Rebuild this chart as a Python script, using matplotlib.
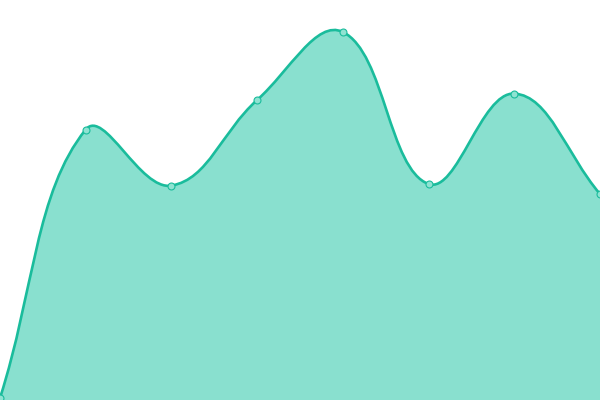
import numpy as np
import matplotlib
matplotlib.use("Agg")
import matplotlib.pyplot as plt
from matplotlib.path import Path
from matplotlib.patches import PathPatch

# data
labels = ["1", "2", "3", "4", "5", "6", "7", "8"]
values = [0.5, 67.6, 53.6, 75.0, 92.0, 54.0, 76.6, 51.5]

LINE = "#1abc9c"
FILL = "#89e0cf"
TENSION = 0.4

W, H = 600, 400
y_max = 100.0
n = len(values)


def spline_path(xs, ys, t=TENSION):
    # chart.js-like cardinal bezier, computed in pixel space
    sx, sy = W / (n - 1), H / y_max
    px = np.asarray(xs, float) * sx
    py = np.asarray(ys, float) * sy
    verts = [(px[0], py[0])]
    codes = [Path.MOVETO]
    cps = []
    for i in range(n):
        p = max(i - 1, 0)
        q = min(i + 1, n - 1)
        d01 = np.hypot(px[i] - px[p], py[i] - py[p])
        d12 = np.hypot(px[q] - px[i], py[q] - py[i])
        s = d01 + d12 if d01 + d12 else 1
        fa, fb = t * d01 / s, t * d12 / s
        cps.append(((px[i] - fa * (px[q] - px[p]), py[i] - fa * (py[q] - py[p])),
                    (px[i] + fb * (px[q] - px[p]), py[i] + fb * (py[q] - py[p]))))
    for i in range(n - 1):
        verts += [cps[i][1], cps[i + 1][0], (px[i + 1], py[i + 1])]
        codes += [Path.CURVE4] * 3
    verts = [(vx / sx, vy / sy) for vx, vy in verts]
    return verts, codes


fig = plt.figure(figsize=(6, 4), dpi=100)
ax = fig.add_axes([0, 0, 1, 1])
ax.set_xlim(0, n - 1)
ax.set_ylim(0, y_max)
ax.axis("off")

xs = np.arange(n)
verts, codes = spline_path(xs, values)

area = Path(verts + [(n - 1, 0), (0, 0), (0, 0)],
            codes + [Path.LINETO, Path.LINETO, Path.CLOSEPOLY])
ax.add_patch(PathPatch(area, facecolor=FILL, edgecolor="none", zorder=1))
ax.add_patch(PathPatch(Path(verts, codes), facecolor="none", edgecolor=LINE,
                       linewidth=1.9, zorder=2))
ax.plot(xs, values, "o", markersize=5, markerfacecolor="#8fe3d2",
        markeredgecolor=LINE, markeredgewidth=0.8, zorder=3, clip_on=False)

fig.savefig("out.png", dpi=100)
